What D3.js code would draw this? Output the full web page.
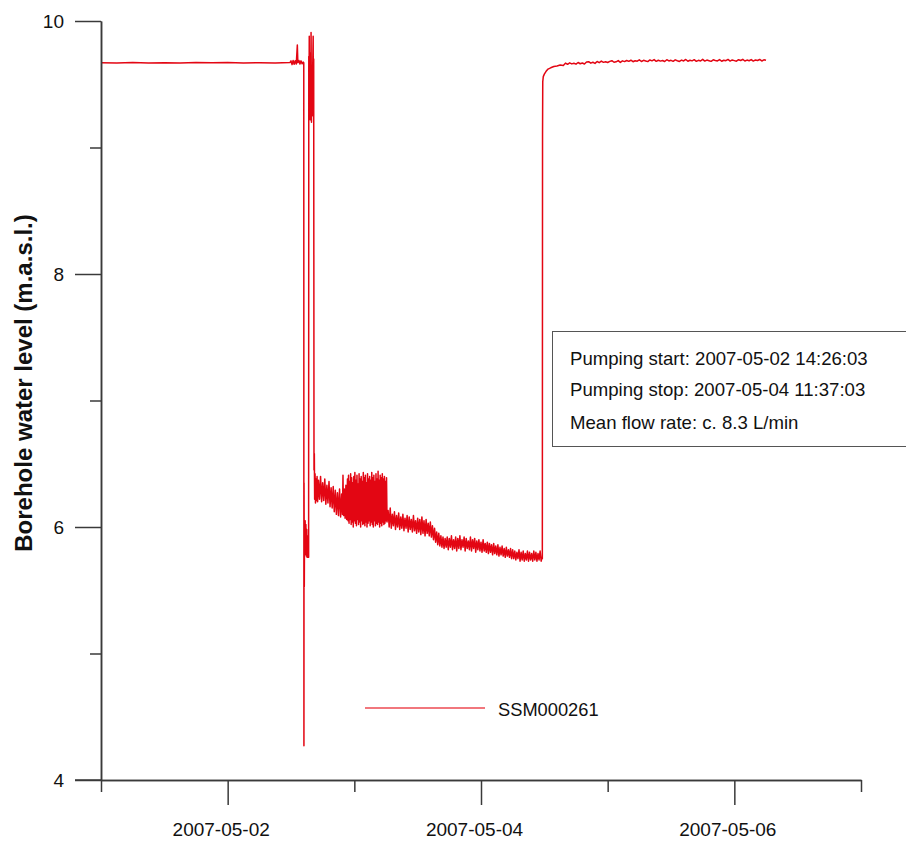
<!DOCTYPE html>
<html>
<head>
<meta charset="utf-8">
<script src="https://cdn.jsdelivr.net/npm/d3@7"></script>
<style>
  body { margin: 0; background: #fff; }
  svg { display: block; font-family: "Liberation Sans", Arial, sans-serif; }
</style>
</head>
<body>
<svg id="chart" width="906" height="841"></svg>
<script>
// hours since 2007-05-01 00:00, water level (m.a.s.l.)
const prePumping = [
  [0, 9.670], [3, 9.667], [6, 9.671], [9, 9.668], [12, 9.670], [15, 9.667],
  [18, 9.671], [21, 9.669], [24, 9.671], [27, 9.668], [30, 9.670], [33, 9.668],
  [35.8, 9.671], [36.0, 9.685], [36.2, 9.655], [36.4, 9.688], [36.6, 9.658],
  [36.8, 9.686], [37.0, 9.660], [37.2, 9.810], [37.3, 9.670], [37.5, 9.688],
  [37.7, 9.660], [37.9, 9.685], [38.1, 9.662], [38.3, 9.675], [38.42, 9.670]
]

const pumpingStart = [
  [38.45, 4.27], [38.47, 6.35], [38.52, 5.53], [38.56, 5.95], [38.62, 5.78],
  [38.68, 6.05], [38.75, 5.80], [38.82, 6.02], [38.90, 5.77], [38.98, 5.98],
  [39.05, 5.76], [39.12, 5.93], [39.20, 5.76], [39.30, 5.90], [39.34, 5.76],
  [39.37, 9.72], [39.40, 9.25], [39.46, 9.88], [39.52, 9.30], [39.58, 9.75],
  [39.64, 9.22], [39.70, 9.60], [39.76, 9.35], [39.80, 9.91], [39.88, 9.20],
  [39.95, 9.65], [40.02, 9.25], [40.10, 9.60], [40.20, 9.88], [40.24, 9.30],
  [40.30, 9.70]
]

const drawdown = [
  [40.36, 6.45], [40.42, 6.58], [40.48, 6.22], [40.56, 6.42], [40.64, 6.19],
  [40.74, 6.38], [40.84, 6.21], [40.94, 6.40], [41.04, 6.20],
  [41.2, 6.37], [41.4, 6.22], [41.6, 6.40], [41.8, 6.20], [42.0, 6.35],
  [42.2, 6.21], [42.4, 6.38], [42.6, 6.18], [42.8, 6.33], [43.0, 6.19],
  [43.2, 6.36], [43.4, 6.16], [43.6, 6.31], [43.8, 6.15], [44.0, 6.32],
  [44.2, 6.12], [44.4, 6.29], [44.6, 6.10], [44.8, 6.27], [45.0, 6.09],
  [45.2, 6.30], [45.4, 6.08], [45.6, 6.26], [45.75, 6.10], [45.85, 6.41],
  [45.95, 6.09], [46.1, 6.30], [46.25, 6.07], [46.4, 6.33], [46.55, 6.06],
  [46.7, 6.38], [46.8, 6.05], [46.9, 6.41], [47.0, 6.03], [47.1, 6.36],
  [47.2, 6.06], [47.3, 6.42], [47.4, 6.02], [47.5, 6.39], [47.6, 6.04],
  [47.7, 6.35], [47.8, 6.00], [47.9, 6.40], [48.0, 6.05], [48.1, 6.43],
  [48.2, 6.03], [48.3, 6.37], [48.4, 6.01], [48.5, 6.41], [48.6, 6.06],
  [48.7, 6.34], [48.8, 6.02], [48.9, 6.42], [49.0, 6.04], [49.1, 6.38],
  [49.2, 6.00], [49.3, 6.40], [49.4, 6.05], [49.5, 6.36], [49.6, 6.02],
  [49.7, 6.43], [49.8, 6.03], [49.9, 6.39], [50.0, 6.01], [50.1, 6.41],
  [50.2, 6.04], [50.3, 6.35], [50.4, 6.00], [50.5, 6.42], [50.6, 6.03],
  [50.7, 6.38], [50.8, 6.05], [50.9, 6.40], [51.0, 6.01], [51.1, 6.37],
  [51.2, 6.04], [51.3, 6.43], [51.4, 6.02], [51.5, 6.39], [51.6, 6.00],
  [51.7, 6.41], [51.8, 6.05], [51.9, 6.36], [52.0, 6.01], [52.1, 6.42],
  [52.2, 6.03], [52.3, 6.38], [52.4, 6.02], [52.5, 6.44], [52.6, 6.04],
  [52.7, 6.37], [52.8, 6.00], [52.9, 6.41], [53.0, 6.03], [53.1, 6.39],
  [53.2, 6.01], [53.3, 6.42], [53.4, 6.04], [53.5, 6.38], [53.6, 6.02],
  [53.7, 6.40], [53.8, 6.03], [53.9, 6.36], [54.0, 6.05], [54.1, 6.39],
  [54.2, 6.04],
  [54.4, 6.13], [54.6, 6.00], [54.8, 6.15], [55.0, 5.99], [55.2, 6.10],
  [55.4, 6.01], [55.6, 6.12], [55.8, 5.98], [56.0, 6.09], [56.2, 6.00],
  [56.4, 6.11], [56.6, 5.98], [56.8, 6.08], [57.0, 5.99], [57.2, 6.10],
  [57.4, 5.97], [57.6, 6.07], [57.8, 5.99], [58.0, 6.09], [58.2, 5.96],
  [58.4, 6.08], [58.6, 5.98], [58.8, 6.06], [59.0, 5.96], [59.2, 6.09],
  [59.4, 5.97], [59.6, 6.05], [59.8, 5.95], [60.0, 6.07], [60.2, 5.96],
  [60.4, 6.06], [60.6, 5.94], [60.8, 6.08], [61.0, 5.95], [61.2, 6.05],
  [61.4, 5.93], [61.6, 6.06], [61.8, 5.95], [62.0, 6.03], [62.2, 5.93],
  [62.4, 6.04], [62.6, 5.92], [62.8, 6.01],
  [63.0, 5.90], [63.2, 5.99], [63.4, 5.88], [63.6, 5.96], [63.8, 5.86],
  [64.0, 5.95], [64.2, 5.85], [64.4, 5.93], [64.6, 5.84], [64.8, 5.92],
  [65.0, 5.83], [65.2, 5.91], [65.4, 5.84],
  [65.6, 5.92], [65.8, 5.82], [66.0, 5.91], [66.2, 5.84], [66.4, 5.93],
  [66.6, 5.82], [66.8, 5.90], [67.0, 5.83], [67.2, 5.92], [67.4, 5.81],
  [67.6, 5.91], [67.8, 5.83], [68.0, 5.93], [68.2, 5.82], [68.4, 5.90],
  [68.6, 5.84], [68.8, 5.92], [69.0, 5.81], [69.2, 5.91], [69.4, 5.83],
  [69.6, 5.89], [69.8, 5.82], [70.0, 5.92], [70.2, 5.81], [70.4, 5.90],
  [70.6, 5.83], [70.8, 5.91], [71.0, 5.80], [71.2, 5.89], [71.4, 5.82],
  [71.6, 5.90], [71.8, 5.81], [72.0, 5.88], [72.2, 5.80], [72.4, 5.90],
  [72.6, 5.81], [72.8, 5.87], [73.0, 5.80],
  [73.2, 5.88], [73.4, 5.79], [73.6, 5.87], [73.8, 5.80], [74.0, 5.86],
  [74.2, 5.78], [74.4, 5.87], [74.6, 5.79], [74.8, 5.85], [75.0, 5.78],
  [75.2, 5.86], [75.4, 5.77], [75.6, 5.84], [75.8, 5.78], [76.0, 5.85],
  [76.2, 5.77], [76.4, 5.83], [76.6, 5.76], [76.8, 5.84], [77.0, 5.77],
  [77.2, 5.82], [77.4, 5.76], [77.6, 5.83], [77.8, 5.75], [78.0, 5.82],
  [78.2, 5.75], [78.4, 5.81], [78.6, 5.74], [78.8, 5.80], [79.0, 5.75],
  [79.2, 5.82], [79.4, 5.73], [79.6, 5.80], [79.8, 5.74], [80.0, 5.81],
  [80.2, 5.73], [80.4, 5.79], [80.6, 5.74], [80.8, 5.81], [81.0, 5.73],
  [81.2, 5.80], [81.4, 5.74], [81.6, 5.79], [81.8, 5.73], [82.0, 5.81],
  [82.2, 5.74], [82.4, 5.80], [82.6, 5.73], [82.8, 5.79], [83.0, 5.74],
  [83.2, 5.81], [83.4, 5.73], [83.56, 5.76]
]

const recovery = [
  [83.62, 5.75], [83.64, 7.24], [83.66, 9.10], [83.70, 9.52], [83.80, 9.56],
  [84.0, 9.58], [84.3, 9.60], [84.7, 9.62], [85.2, 9.63], [85.8, 9.64],
  [86.4, 9.645], [87.0, 9.652], [87.6, 9.648], [88.0, 9.667], [88.4, 9.658],
  [88.8, 9.669], [89.2, 9.661], [89.6, 9.666], [90.0, 9.659], [90.4, 9.672],
  [90.8, 9.662], [91.2, 9.668], [91.6, 9.660], [92.0, 9.676], [92.4, 9.678],
  [92.8, 9.667], [93.2, 9.674], [93.6, 9.665], [94.0, 9.680], [94.4, 9.671],
  [94.8, 9.683], [95.2, 9.673], [95.6, 9.678], [96.0, 9.672], [96.4, 9.681],
  [96.8, 9.686], [97.2, 9.674], [97.6, 9.677], [98.0, 9.687], [98.4, 9.673],
  [98.8, 9.685], [99.2, 9.679], [99.6, 9.688], [100.0, 9.681], [100.4, 9.690],
  [100.8, 9.678], [101.2, 9.686], [101.6, 9.682], [102.0, 9.693], [102.4, 9.680],
  [102.8, 9.689], [103.2, 9.684], [103.6, 9.679], [104.0, 9.692], [104.4, 9.685],
  [104.8, 9.695], [105.2, 9.681], [105.6, 9.690], [106.0, 9.683], [106.4, 9.688],
  [106.8, 9.680], [107.2, 9.694], [107.6, 9.684], [108.0, 9.689], [108.4, 9.681],
  [108.8, 9.693], [109.2, 9.686], [109.6, 9.680], [110.0, 9.691], [110.4, 9.684],
  [110.8, 9.696], [111.2, 9.682], [111.6, 9.690], [112.0, 9.685], [112.4, 9.694],
  [112.8, 9.681], [113.2, 9.689], [113.6, 9.684], [114.0, 9.697], [114.4, 9.683],
  [114.8, 9.691], [115.2, 9.686], [115.6, 9.681], [116.0, 9.693], [116.4, 9.688],
  [116.8, 9.684], [117.2, 9.695], [117.6, 9.682], [118.0, 9.690], [118.4, 9.686],
  [118.8, 9.696], [119.2, 9.683], [119.6, 9.692], [120.0, 9.687], [120.4, 9.682],
  [120.8, 9.694], [121.2, 9.688], [121.6, 9.697], [122.0, 9.684], [122.4, 9.691],
  [122.8, 9.686], [123.2, 9.695], [123.6, 9.683], [124.0, 9.692], [124.4, 9.688],
  [124.8, 9.696], [125.2, 9.684], [125.6, 9.693], [126.0, 9.689]
]

const yMajorTicks = [4, 6, 8, 10]
const yMinorTicks = [5, 7, 9]
const xDays = ["2007-05-01", "2007-05-02", "2007-05-03", "2007-05-04",
  "2007-05-05", "2007-05-06", "2007-05-07"]
const xLabelled = ["2007-05-02", "2007-05-04", "2007-05-06"]
const seriesName = "SSM000261"
const infoLines = [
  "Pumping start: 2007-05-02 14:26:03",
  "Pumping stop: 2007-05-04 11:37:03",
  "Mean flow rate: c. 8.3 L/min"
]

const red = "#e30613"
const axisColor = "#3a3a3a"
const t0 = Date.UTC(2007, 4, 1)
const toDate = h => new Date(t0 + h * 3600e3)
const parseDay = d3.utcParse("%Y-%m-%d")

const svg = d3.select("#chart")

const x = d3.scaleUtc()
  .domain([parseDay(xDays[0]), parseDay(xDays[xDays.length - 1])])
  .range([101, 861])
const y = d3.scaleLinear().domain([4, 10]).range([780, 21])

// series
const allPoints = prePumping.concat(pumpingStart, drawdown, recovery)
const line = d3.line()
  .x(d => x(toDate(d[0])))
  .y(d => y(d[1]))

svg.append("path")
  .datum(allPoints)
  .attr("fill", "none")
  .attr("stroke", red)
  .attr("stroke-width", 1.5)
  .attr("stroke-linejoin", "round")
  .attr("d", line)

// y axis
svg.append("g")
  .attr("transform", "translate(101,0)")
  .call(d3.axisLeft(y).tickValues(yMajorTicks).tickSize(26).tickSizeOuter(0)
    .tickPadding(11).tickFormat(d3.format("d")))
svg.append("g")
  .attr("transform", "translate(101,0)")
  .call(d3.axisLeft(y).tickValues(yMinorTicks).tickSize(11).tickSizeOuter(0).tickFormat(""))

// x axis
const majorDays = new Set(xLabelled)
const fmt = d3.utcFormat("%Y-%m-%d")
const xMajor = svg.append("g")
  .attr("transform", "translate(0,780)")
  .call(d3.axisBottom(x).tickValues(xLabelled.map(parseDay)).tickSize(25)
    .tickSizeOuter(0).tickFormat(fmt).tickPadding(18))
xMajor.selectAll(".tick text").attr("dx", -7)
svg.append("g")
  .attr("transform", "translate(0,780)")
  .call(d3.axisBottom(x).tickValues(xDays.filter(d => !majorDays.has(d)).map(parseDay))
    .tickSize(12).tickSizeOuter(0).tickFormat(""))

// extend the x axis line left to the end of the major y ticks
svg.append("line")
  .attr("x1", 75).attr("x2", 101).attr("y1", 780).attr("y2", 780)
  .attr("stroke", axisColor).attr("stroke-width", 1.5)

svg.selectAll(".domain, .tick line")
  .attr("stroke", axisColor)
  .attr("stroke-width", 1.5)
svg.selectAll(".tick text")
  .attr("fill", "#111")
  .attr("font-size", 19)
  .attr("font-family", "'Liberation Sans', Arial, sans-serif")

// y axis title
svg.append("text")
  .attr("transform", "translate(32,383) rotate(-90)")
  .attr("text-anchor", "middle")
  .attr("font-size", 24)
  .attr("font-weight", "bold")
  .attr("fill", "#111")
  .text("Borehole water level (m.a.s.l.)")

// info box
svg.append("rect")
  .attr("x", 552.5).attr("y", 331.5)
  .attr("width", 400).attr("height", 115)
  .attr("fill", "#fff")
  .attr("stroke", "#555")
  .attr("stroke-width", 1)

svg.append("g")
  .selectAll("text")
  .data(infoLines)
  .enter().append("text")
  .attr("x", 570)
  .attr("y", (d, i) => [365, 396, 429][i])
  .attr("font-size", 18.6)
  .attr("fill", "#111")
  .text(d => d)

// legend
svg.append("line")
  .attr("x1", 365).attr("x2", 485).attr("y1", 708).attr("y2", 708)
  .attr("stroke", "#ec4a52").attr("stroke-width", 1.3)
svg.append("text")
  .attr("x", 498).attr("y", 716)
  .attr("font-size", 18.3)
  .attr("fill", "#111")
  .text(seriesName)
</script>
</body>
</html>
